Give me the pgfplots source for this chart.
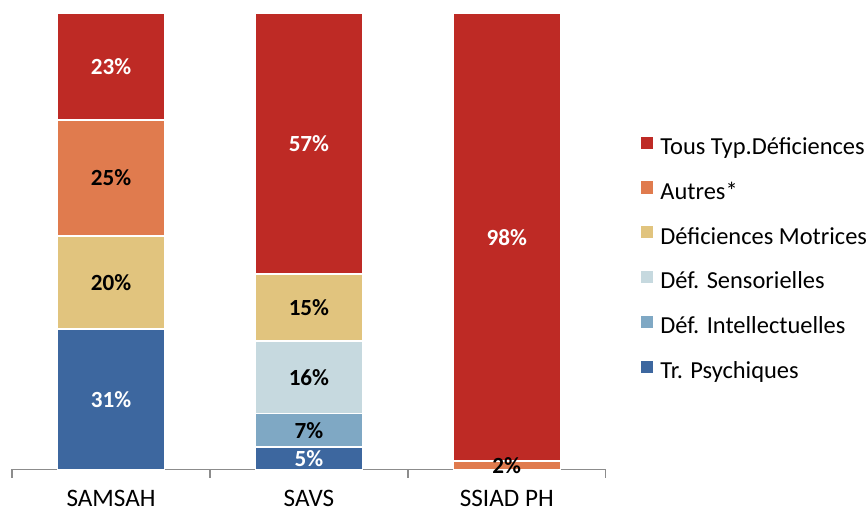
\documentclass[border=0pt]{standalone}
\usepackage{pgfplots}
\usepackage{pgfplotstable}
\pgfplotsset{compat=1.18}
\usepackage{fontspec}
\setmainfont{Carlito}
\definecolor{cTous}{HTML}{BE2A25}
\definecolor{cAutres}{HTML}{E07B4E}
\definecolor{cMotr}{HTML}{E1C47E}
\definecolor{cSens}{HTML}{C6D9DF}
\definecolor{cIntel}{HTML}{7FA8C4}
\definecolor{cPsych}{HTML}{3D679F}
\pgfplotstableread{
x Psych Intel Sens Motr Autres Tous
0 30.8 0 0 20.4 25.4 23.4
1 4.9 7.4 15.8 14.7 0 57.2
2 0 0 0 0 1.8 98.2
}\data
\begin{document}
\begin{tikzpicture}
\begin{axis}[name=ax, scale only axis, width=588bp, height=452bp,
  ybar stacked, bar width=106bp,
  xmin=-0.5, xmax=2.5, ymin=0, ymax=100, enlargelimits=false,
  /pgf/number format/assume math mode=true,
  axis y line=none, axis x line*=bottom,
  x axis line style={-, draw=black!45, line width=1.3bp},
  xtick={0,1,2}, xticklabels={SAMSAH,SAVS,SSIAD PH},
  major x tick style={draw=none},
  minor xtick={-0.5,0.5,1.5,2.5},
  minor x tick style={draw=black!45, line width=1.3bp},
  minor tick length=8bp, major tick length=0pt, tick align=outside,
  xticklabel style={font=\fontsize{25}{29}\selectfont, anchor=base, yshift=-37bp},
  nodes near coords={\pgfmathsetmacro\v{\rawy}\ifdim\v pt>0.1pt\relax\pgfmathprintnumber[fixed,precision=0,assume math mode=true]{\v}\%\fi},
  visualization depends on=rawy \as \rawy,
  every node near coord/.append style={anchor=center, font=\bfseries\fontsize{23}{27}\selectfont},
  reverse legend,
  legend cell align=left,
  legend image code/.code={\fill[#1, draw=none] (0bp,0bp) rectangle (12bp,12bp);},
  legend style={draw=none, fill=none, inner sep=0pt, at={(1.0595,0.730)}, anchor=north west,
    font=\fontsize{24.3}{28}\selectfont, row sep=21bp,
    nodes={inner sep=0pt, text height=17bp, text depth=6bp},
    /tikz/every odd column/.append style={column sep=7bp}},
]
\addplot[fill=cPsych, draw=white, line width=1.5bp, every node near coord/.append style={text=white}] table[x=x, y=Psych]{\data};
\addlegendentry{Tr. Psychiques}
\addplot[fill=cIntel, draw=white, line width=1.5bp, every node near coord/.append style={text=black}] table[x=x, y=Intel]{\data};
\addlegendentry{Déf. Intellectuelles}
\addplot[fill=cSens, draw=white, line width=1.5bp, every node near coord/.append style={text=black}] table[x=x, y=Sens]{\data};
\addlegendentry{Déf. Sensorielles}
\addplot[fill=cMotr, draw=white, line width=1.5bp, every node near coord/.append style={text=black}] table[x=x, y=Motr]{\data};
\addlegendentry{Déficiences Motrices}
\addplot[fill=cAutres, draw=white, line width=1.5bp, every node near coord/.append style={text=black}] table[x=x, y=Autres]{\data};
\addlegendentry{Autres*}
\addplot[fill=cTous, draw=white, line width=1.5bp, every node near coord/.append style={text=white}] table[x=x, y=Tous]{\data};
\addlegendentry{Tous Typ.Déficiences}
\end{axis}
\path ([shift={(-12bp,-46bp)}]ax.south west) rectangle ([shift={(255bp,13bp)}]ax.north east);
\end{tikzpicture}
\end{document}
